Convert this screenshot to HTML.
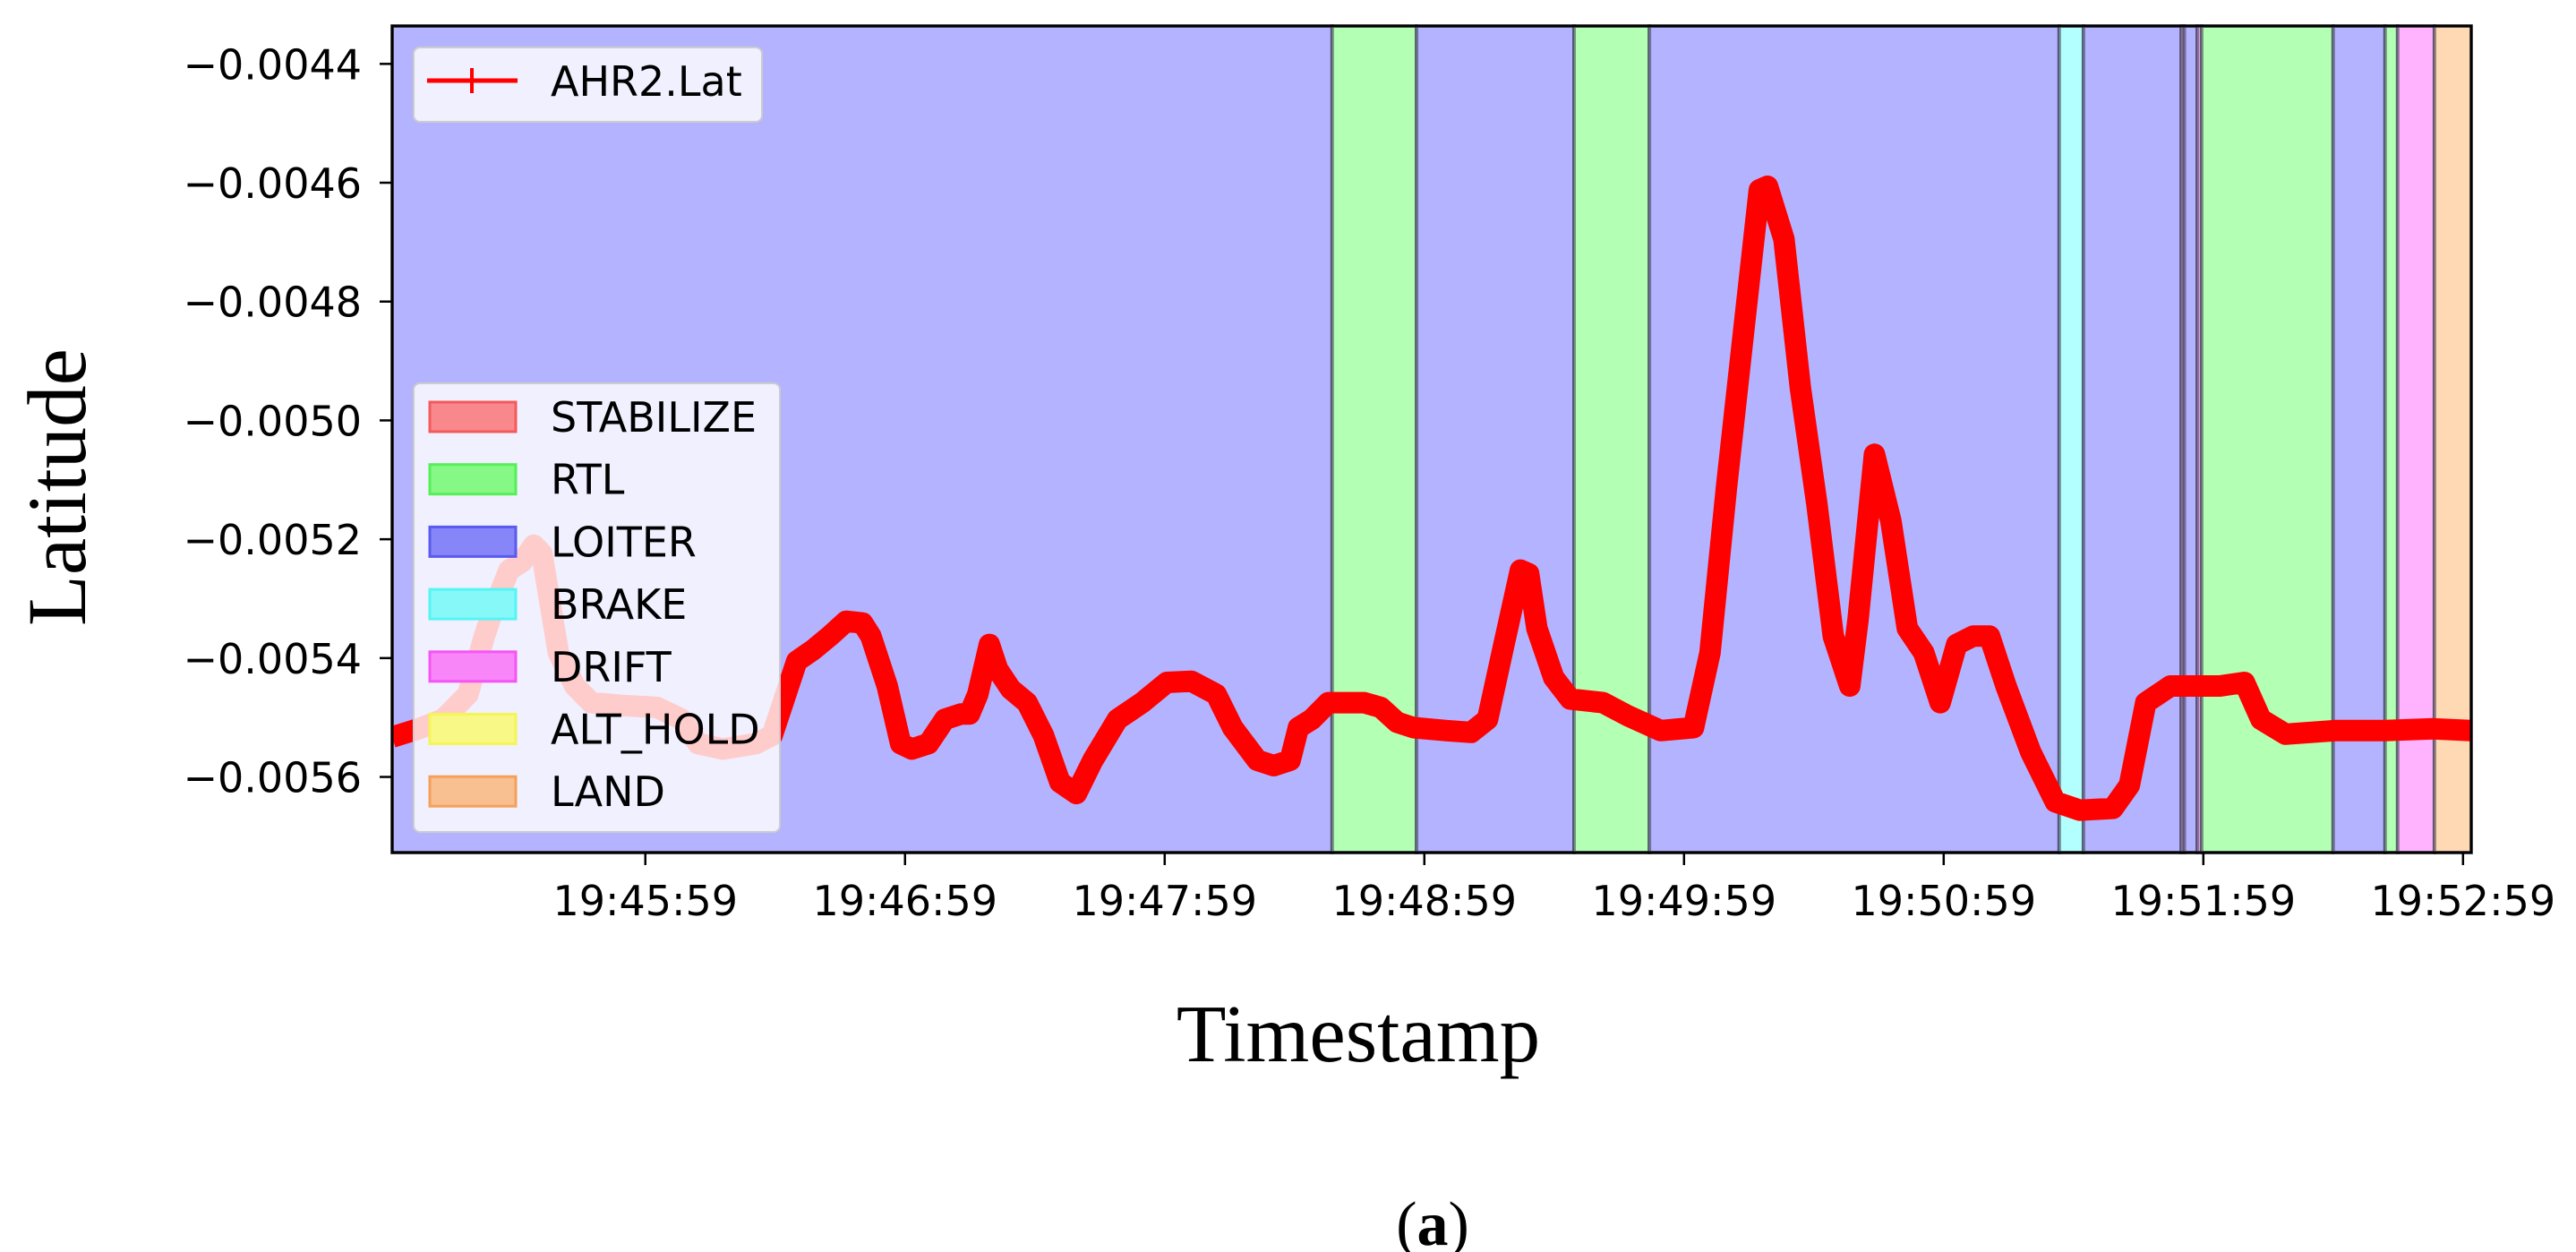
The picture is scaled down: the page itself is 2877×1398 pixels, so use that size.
<!DOCTYPE html>
<html><head><meta charset="utf-8">
<style>
html,body{margin:0;padding:0;background:#fff;}
svg{display:block;font-family:"DejaVu Sans","Liberation Sans",sans-serif;}
</style></head>
<body>
<svg id="chart" width="2877" height="1398" viewBox="0 0 2877 1398" xmlns="http://www.w3.org/2000/svg">
<g id="bands"></g>
<g id="series"></g>
<g id="axes"></g>
<text x="0" y="0" transform="translate(95,544) rotate(-90)" text-anchor="middle" font-family="Liberation Serif, serif" font-size="93">Latitude</text>
<text x="1517" y="1185" text-anchor="middle" font-family="Liberation Serif, serif" font-size="91">Timestamp</text>
<text x="1600" y="1390" text-anchor="middle" font-family="Liberation Serif, serif" font-size="70">(<tspan font-weight="bold">a</tspan>)</text>
<g>
<rect x="462" y="53" width="389" height="83" rx="7" fill="rgba(255,255,255,0.8)" stroke="#cccccc" stroke-width="2"/>
<line x1="477" y1="90" x2="578" y2="90" stroke="#ff0000" stroke-width="5"/>
<line x1="527" y1="76" x2="527" y2="104" stroke="#ff0000" stroke-width="4"/>
<text x="615" y="107" font-size="46">AHR2.Lat</text>
</g>
<g id="modeLegend">
<rect x="462" y="428" width="409" height="501" rx="7" fill="rgba(255,255,255,0.8)" stroke="#cccccc" stroke-width="2"/>
</g>
</svg>
<script>
// ---- data ----
const seriesTimes = [0.5,6.6,12.3,18.0,21.8,23.7,27.5,30.5,33.2,35.1,38.9,42.7,46.5,54.1,61.7,67.4,71.2,76.9,84.5,88.3,92.1,94.0,97.8,101.6,105.4,109.2,111.1,114.9,118.0,120.6,124.4,128.2,132.0,133.9,135.8,138.5,140.4,143.4,147.2,151.0,154.8,158.6,162.4,168.1,173.8,179.5,185.2,190.9,194.7,200.4,204.2,208.0,209.9,213.0,216.8,225.1,228.9,232.7,236.5,244.1,249.8,253.6,257.4,261.2,263.1,265.0,268.9,272.7,280.3,286.0,293.6,301.2,305.0,308.8,312.6,316.4,318.3,322.1,325.9,329.7,333.5,337.3,339.2,343.0,346.8,350.6,354.4,358.2,362.0,365.8,369.6,373.4,379.1,384.8,390.5,398.1,401.9,405.7,411.4,422.8,428.5,432.3,438.0,449.4,460.8,472.2,480.9];
const seriesLat = [-0.005533,-0.005519,-0.005503,-0.005461,-0.005363,-0.005322,-0.005252,-0.005238,-0.005210,-0.005224,-0.005391,-0.005447,-0.005475,-0.005480,-0.005483,-0.005503,-0.005544,-0.005553,-0.005544,-0.005530,-0.005447,-0.005405,-0.005386,-0.005363,-0.005338,-0.005341,-0.005363,-0.005447,-0.005544,-0.005553,-0.005544,-0.005503,-0.005494,-0.005494,-0.005461,-0.005377,-0.005419,-0.005452,-0.005475,-0.005530,-0.005609,-0.005628,-0.005572,-0.005503,-0.005475,-0.005441,-0.005439,-0.005461,-0.005517,-0.005572,-0.005581,-0.005572,-0.005517,-0.005503,-0.005475,-0.005475,-0.005483,-0.005508,-0.005517,-0.005522,-0.005525,-0.005503,-0.005377,-0.005252,-0.005258,-0.005350,-0.005433,-0.005469,-0.005475,-0.005497,-0.005522,-0.005517,-0.005391,-0.005113,-0.004862,-0.004612,-0.004606,-0.004695,-0.004946,-0.005141,-0.005363,-0.005447,-0.005336,-0.005057,-0.005169,-0.005350,-0.005391,-0.005475,-0.005377,-0.005363,-0.005363,-0.005447,-0.005558,-0.005642,-0.005656,-0.005653,-0.005614,-0.005475,-0.005447,-0.005447,-0.005441,-0.005503,-0.005528,-0.005522,-0.005522,-0.005519,-0.005522];
const bandStarts = [0.5,217.7,237.2,273.6,291.0,385.7,391.3,413.9,414.6,417.6,418.6,449.0,461.0,463.9,472.4];
const bandEnds   = [217.7,237.2,273.6,291.0,385.7,391.3,413.9,414.6,417.6,418.6,449.0,461.0,463.9,472.4,480.9];
const bandModes  = ["LOITER","RTL","LOITER","RTL","LOITER","BRAKE","LOITER","DRIFT","LOITER","DRIFT","RTL","LOITER","RTL","DRIFT","LAND"];
const modeNames  = ["STABILIZE","RTL","LOITER","BRAKE","DRIFT","ALT_HOLD","LAND"];
const yTicks = [-0.0044,-0.0046,-0.0048,-0.0050,-0.0052,-0.0054,-0.0056];
const xTicks = [59,119,179,239,299,359,419,479];
const xTickLabels = ["19:45:59","19:46:59","19:47:59","19:48:59","19:49:59","19:50:59","19:51:59","19:52:59"];

// ---- scales ----
const PL=438, PR=2760, PT=29, PB=952;
const X0=0.5, X1=480.9, Y0=-0.0057273, Y1=-0.0043362;
const xs = t => PL + (t - X0) / (X1 - X0) * (PR - PL);
const ys = v => PB - (v - Y0) / (Y1 - Y0) * (PB - PT);
const NS="http://www.w3.org/2000/svg";
const modeFill = {STABILIZE:"#ffb3b3",RTL:"#b3ffb3",LOITER:"#b3b3ff",BRAKE:"#b3ffff",DRIFT:"#ffb3ff",ALT_HOLD:"#ffffb3",LAND:"#ffd9b3"};
const modePatch = {STABILIZE:"#f8888c",RTL:"#86f886",LOITER:"#8686f8",BRAKE:"#86f8f8",DRIFT:"#f886f8",ALT_HOLD:"#f8f886",LAND:"#f8bf90"};
const modeEdge = {STABILIZE:"#f55a5a",RTL:"#55f055",LOITER:"#5a5af0",BRAKE:"#55f5f5",DRIFT:"#f555f5",ALT_HOLD:"#f5f555",LAND:"#f5a05a"};

const bands=document.getElementById('bands');
for(let i=0;i<bandStarts.length;i++){
  const r=document.createElementNS(NS,'rect');
  const a=xs(bandStarts[i]), b=xs(bandEnds[i]);
  r.setAttribute('x',a);r.setAttribute('y',PT);r.setAttribute('width',Math.max(b-a,0.5));r.setAttribute('height',PB-PT);
  r.setAttribute('fill',modeFill[bandModes[i]]);
  r.setAttribute('stroke','rgba(60,60,80,0.55)');r.setAttribute('stroke-width','4');
  
  
  bands.appendChild(r);
}

const series=document.getElementById('series');
const p=document.createElementNS(NS,'path');
let d='';
for(let i=0;i<seriesTimes.length;i++){d+=(i?'L':'M')+xs(seriesTimes[i]).toFixed(1)+','+ys(seriesLat[i]).toFixed(1);}
p.setAttribute('d',d);p.setAttribute('fill','none');p.setAttribute('stroke','#ff0000');
p.setAttribute('stroke-width','24');p.setAttribute('stroke-linejoin','round');p.setAttribute('stroke-linecap','butt');


series.appendChild(p);
const clip=document.createElementNS(NS,'clipPath');clip.setAttribute('id','pc');
const cr=document.createElementNS(NS,'rect');cr.setAttribute('x',PL);cr.setAttribute('y',PT);cr.setAttribute('width',PR-PL);cr.setAttribute('height',PB-PT);
clip.appendChild(cr);document.getElementById('chart').appendChild(clip);
series.setAttribute('clip-path','url(#pc)');

const axes=document.getElementById('axes');
const frame=document.createElementNS(NS,'rect');
frame.setAttribute('x',PL);frame.setAttribute('y',PT);frame.setAttribute('width',PR-PL);frame.setAttribute('height',PB-PT);
frame.setAttribute('fill','none');frame.setAttribute('stroke','#000');frame.setAttribute('stroke-width','3');


axes.appendChild(frame);
yTicks.forEach(v=>{
  const y=ys(v);
  const l=document.createElementNS(NS,'line');
  l.setAttribute('x1',PL-14);l.setAttribute('x2',PL);l.setAttribute('y1',y);l.setAttribute('y2',y);l.setAttribute('stroke','#000');l.setAttribute('stroke-width','2.5');
  
  
  axes.appendChild(l);
  const t=document.createElementNS(NS,'text');
  t.setAttribute('x',PL-34);t.setAttribute('y',y+17);t.setAttribute('text-anchor','end');t.setAttribute('font-size','46');
  t.textContent='\u2212'+Math.abs(v).toFixed(4);
  
  
  axes.appendChild(t);
});
xTicks.forEach((s,i)=>{
  const x=xs(s);
  const l=document.createElementNS(NS,'line');
  l.setAttribute('x1',x);l.setAttribute('x2',x);l.setAttribute('y1',PB);l.setAttribute('y2',PB+14);l.setAttribute('stroke','#000');l.setAttribute('stroke-width','2.5');
  
  
  axes.appendChild(l);
  const t=document.createElementNS(NS,'text');
  t.setAttribute('x',x);t.setAttribute('y',PB+70);t.setAttribute('text-anchor','middle');t.setAttribute('font-size','46');
  t.textContent=xTickLabels[i];
  
  
  axes.appendChild(t);
});

const ml=document.getElementById('modeLegend');
modeNames.forEach((m,i)=>{
  const y=465+i*69.7;
  const r=document.createElementNS(NS,'rect');
  r.setAttribute('x',480);r.setAttribute('y',y-16);r.setAttribute('width',96);r.setAttribute('height',33);
  r.setAttribute('fill',modePatch[m]);r.setAttribute('stroke',modeEdge[m]);r.setAttribute('stroke-width','3');
  
  
  ml.appendChild(r);
  const t=document.createElementNS(NS,'text');
  t.setAttribute('x',615);t.setAttribute('y',y+17);t.setAttribute('font-size','46');
  t.textContent=m;
  
  
  ml.appendChild(t);
});
</script>
</body></html>
